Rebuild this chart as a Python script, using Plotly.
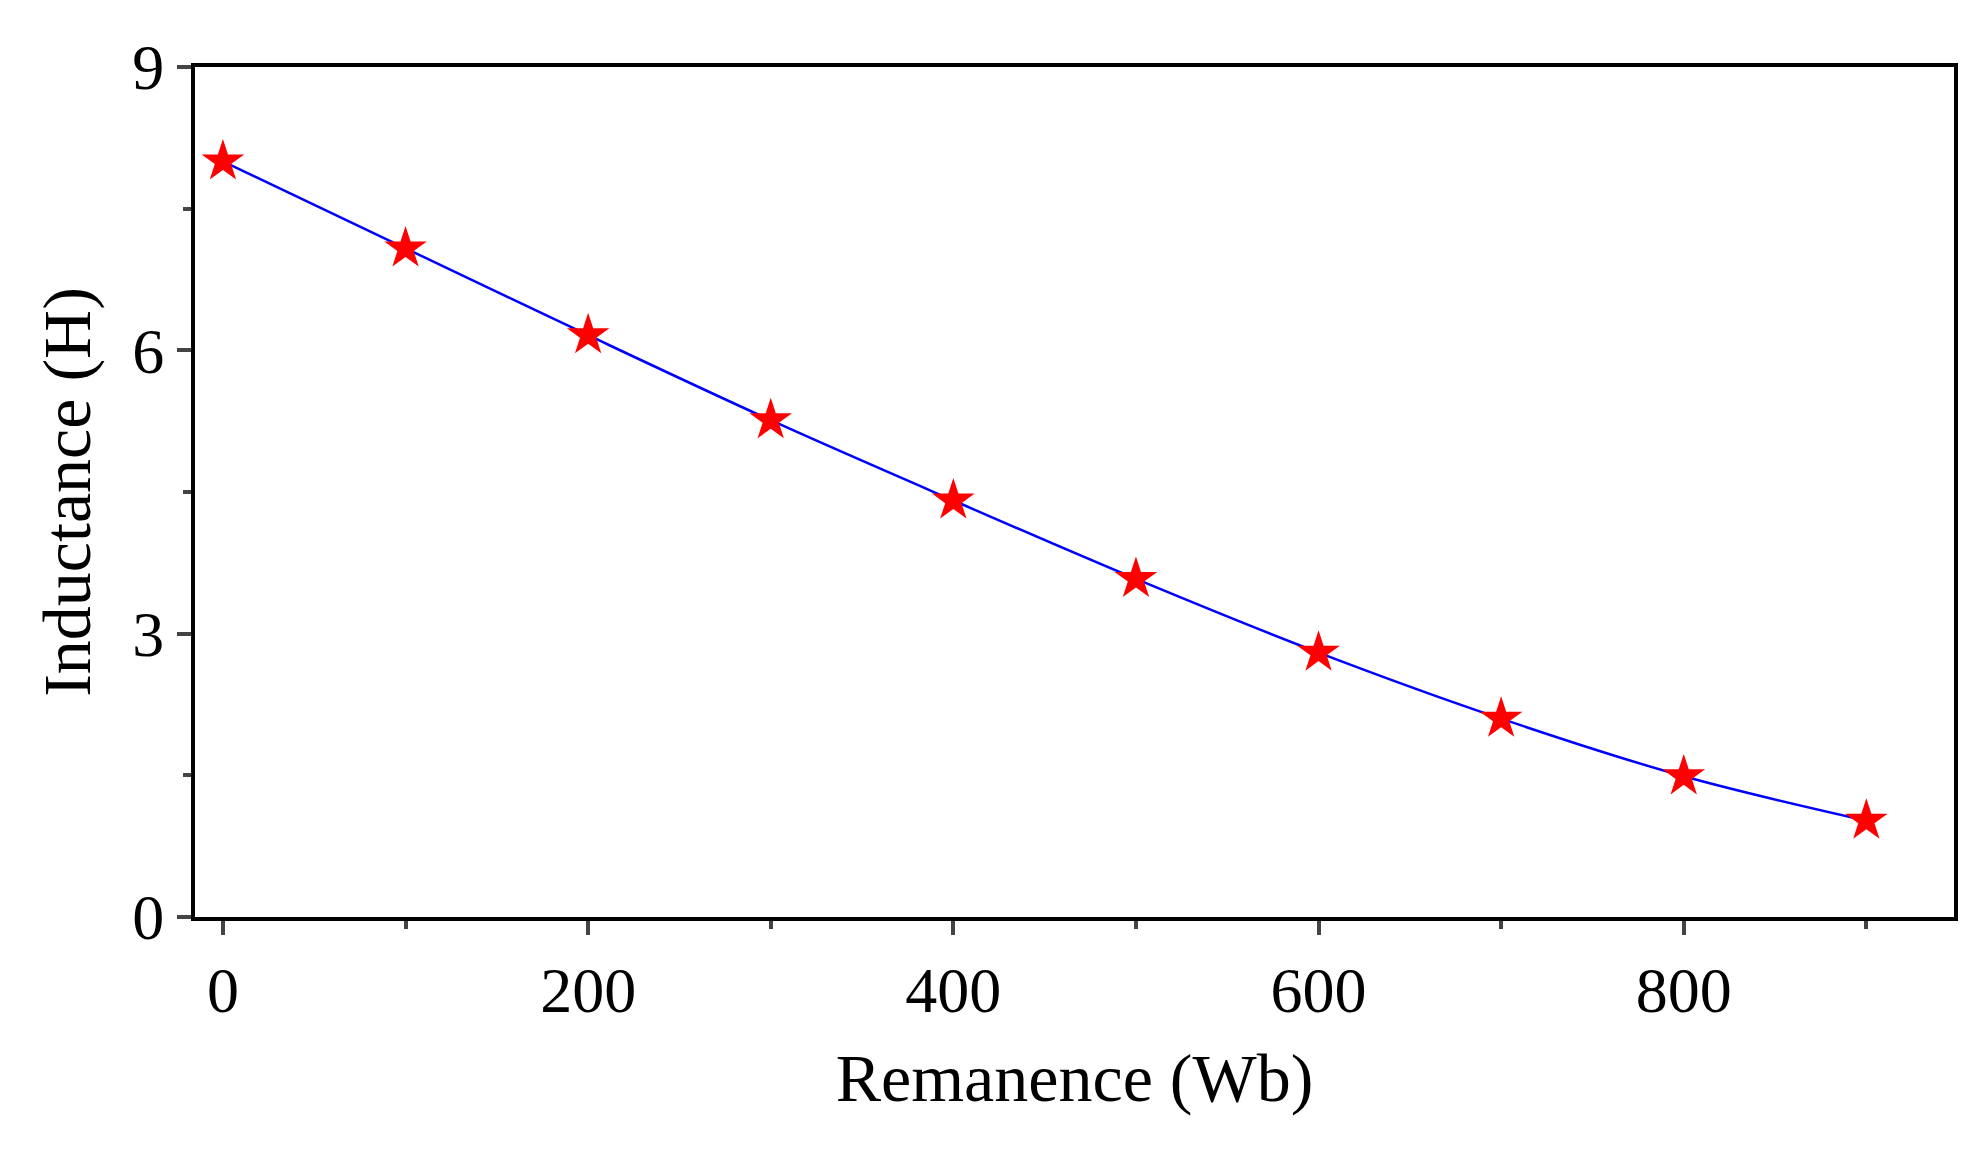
import plotly.graph_objects as go

remanence = [0, 100, 200, 300, 400, 500, 600, 700, 800, 900]
inductance = [8.0, 7.08, 6.16, 5.26, 4.41, 3.58, 2.80, 2.10, 1.49, 1.02]

fig = go.Figure()
fig.add_trace(go.Scatter(x=remanence, y=inductance, mode="lines",
                         line=dict(color="#0000ff", width=2.5, shape="spline")))
fig.add_trace(go.Scatter(x=remanence, y=inductance, mode="markers",
                         marker=dict(symbol="star", size=32, color="#ff0000")))

font = dict(family="Liberation Serif, Times New Roman, serif", color="black")
axis = dict(showline=True, mirror=True, linecolor="black", linewidth=4,
            ticks="outside", ticklen=14, tickwidth=4, showgrid=False, zeroline=False,
            tickfont=dict(size=64, **font))
fig.update_xaxes(range=[-15.3, 948], tickvals=[0, 200, 400, 600, 800],
                 title=dict(text="Remanence (Wb)", font=dict(size=68, **font), standoff=30),
                 minor=dict(tickvals=[100, 300, 500, 700, 900], ticks="outside", ticklen=8, tickwidth=4),
                 **axis)
fig.update_yaxes(range=[0, 9], tickvals=[0, 3, 6, 9],
                 title=dict(text="Inductance (H)", font=dict(size=68, **font), standoff=20),
                 minor=dict(tickvals=[1.5, 4.5, 7.5], ticks="outside", ticklen=8, tickwidth=4),
                 **axis)
fig.update_layout(width=1974, height=1163, showlegend=False,
                  plot_bgcolor="white", paper_bgcolor="white",
                  margin=dict(l=187, r=28, t=59, b=254))
fig.write_html("out.html")
